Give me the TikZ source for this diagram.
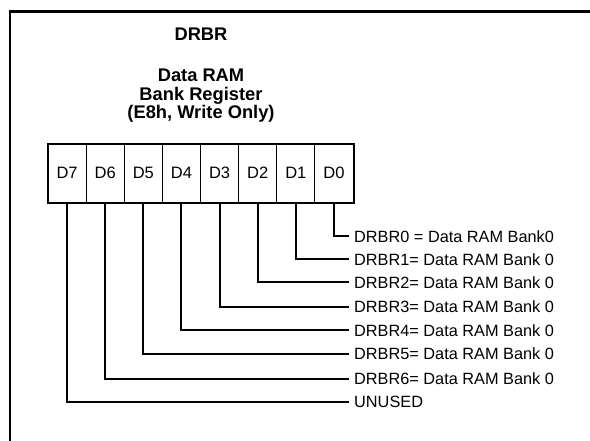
\documentclass[tikz,border=0pt]{standalone}
\usepackage{fontspec}
\setmainfont{Liberation Sans}
\begin{document}
\begin{tikzpicture}[x=1pt,y=-1pt,
  frame/.style={line width=2.2pt},
  titletext/.style={font=\fontsize{18.3}{18}\selectfont\bfseries, anchor=base, inner sep=0pt},
  cell/.style={draw, line width=1pt, minimum width=38.125pt, minimum height=58pt, inner sep=0pt, font=\fontsize{16.5}{18}\selectfont},
  lab/.style={anchor=west, inner xsep=5pt, inner ysep=0pt, text height=11.6pt, text depth=0pt, font=\fontsize{16.3}{18}\selectfont},
  conn/.style={line width=2pt}
]
\useasboundingbox (0,0) rectangle (590,440);
\fill[white] (0,0) rectangle (590,440);
\draw[frame] (10,441) -- (10,11.5) -- (591,11.5);

\node[titletext] (t1) at (201,40.7) {DRBR};
\node[titletext] (t2) at (201,81.7) {Data RAM};
\node[titletext] (t3) at (201,100) {Bank Register};
\node[titletext] (t4) at (201,118.3) {(E8h, Write Only)};

\node[cell] (d7) at (67.0625,173) {D7};
\node[cell] (d6) at (105.1875,173) {D6};
\node[cell] (d5) at (143.3125,173) {D5};
\node[cell] (d4) at (181.4375,173) {D4};
\node[cell] (d3) at (219.5625,173) {D3};
\node[cell] (d2) at (257.6875,173) {D2};
\node[cell] (d1) at (295.8125,173) {D1};
\node[cell] (d0) at (333.9375,173) {D0};
\draw[line width=2pt] (d7.north west) rectangle (d0.south east);

\node[lab] (l0) at (349,236.3) {DRBR0 = Data RAM Bank0};
\node[lab] (l1) at (349,259.3) {DRBR1= Data RAM Bank 0};
\node[lab] (l2) at (349,282.3) {DRBR2= Data RAM Bank 0};
\node[lab] (l3) at (349,306.5) {DRBR3= Data RAM Bank 0};
\node[lab] (l4) at (349,330.2) {DRBR4= Data RAM Bank 0};
\node[lab] (l5) at (349,354) {DRBR5= Data RAM Bank 0};
\node[lab] (l6) at (349,378.5) {DRBR6= Data RAM Bank 0};
\node[lab] (l7) at (349,402) {UNUSED};

\draw[conn] (d0.south) |- (l0.west);
\draw[conn] (d1.south) |- (l1.west);
\draw[conn] (d2.south) |- (l2.west);
\draw[conn] (d3.south) |- (l3.west);
\draw[conn] (d4.south) |- (l4.west);
\draw[conn] (d5.south) |- (l5.west);
\draw[conn] (d6.south) |- (l6.west);
\draw[conn] (d7.south) |- (l7.west);
\end{tikzpicture}
\end{document}
